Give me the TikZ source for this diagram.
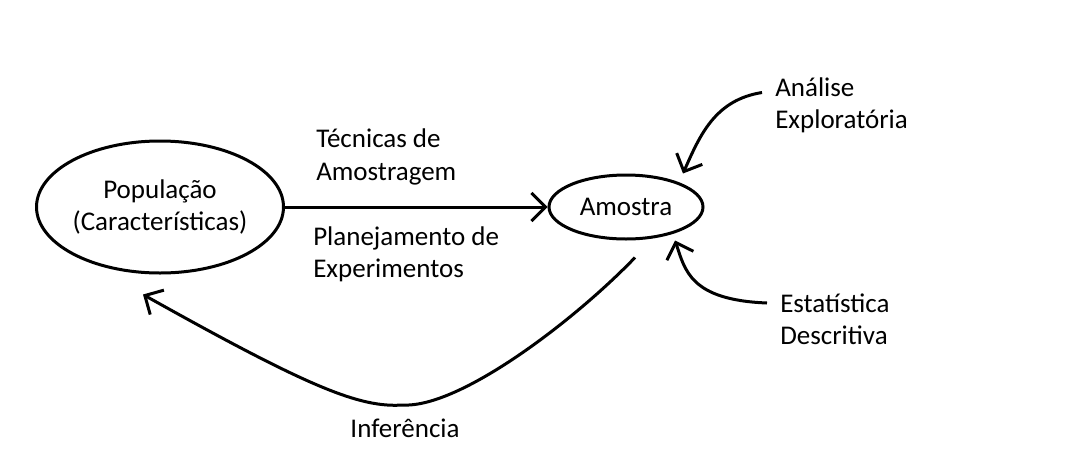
\documentclass[tikz,border=0pt]{standalone}
\usepackage{fontspec}
\setmainfont{Carlito}
\usetikzlibrary{shapes.geometric,arrows.meta}

\begin{document}
\begin{tikzpicture}[
    blob/.style={ellipse,draw,line width=0.075000cm,inner sep=0pt,align=center},
    note/.style={anchor=west,align=left,inner sep=0pt},
    flow/.style={line width=0.075000cm,-{Straight Barb[length=0.350000cm,width=0.700000cm]}}
  ]
  \useasboundingbox (0,0) rectangle (26.875000,11.475000);
  {\fontsize{19.2}{23}\selectfont

  % Marking population
  \node [blob,minimum width=6.150000cm,minimum height=3.300000cm] (pop) at (4.000000,6.300000) {População\\(Características)};%

  % Marking sample
  \node [blob,minimum width=3.850000cm,minimum height=1.600000cm] (amo) at (15.650000,6.300000) {Amostra};%

  % Marking labels of the sampling arrow
  \node [note] (tec) at (7.900000,7.550000) {Técnicas de\\Amostragem};%
  \node [note] (plan) at (7.825000,5.125000) {Planejamento de\\Experimentos};%

  % Marking labels on the right
  \node [note] (ana) at (19.375000,8.837500) {Análise\\Exploratória};%
  \node [note] (est) at (19.500000,3.500000) {Estatística\\Descritiva};%

  % Marking label of the way back
  \node [inner sep=0pt] (inf) at (10.125000,0.775000) {Inferência};%

  % Drawing arrow population -> sample
  \draw [flow] (pop.east) -- (amo.west);%

  % Drawing arrow analysis -> sample
  \draw [flow] ([xshift=-0.325cm,yshift=0.325cm]ana.west) .. controls (17.875000,8.975000) and (17.500000,8.100000) .. ([xshift=1.425cm]amo.north);%

  % Drawing arrow statistics -> sample
  \draw [flow] ([xshift=-0.325cm,yshift=0.400000cm]est.west) .. controls (17.250000,3.975000) and (17.125000,4.725000) .. ([xshift=1.225cm]amo.south);%

  % Drawing arrow sample -> population
  \draw [flow] ([xshift=0.225cm,yshift=-0.425cm]amo.south) .. controls (14.375000,3.475000) and (11.500000,1.275000) .. (10.075000,1.350000) .. controls (9.000000,1.275000) and (7.750000,1.775000) .. ([xshift=-0.425cm,yshift=-0.500000cm]pop.south);%
  }
\end{tikzpicture}
\end{document}
